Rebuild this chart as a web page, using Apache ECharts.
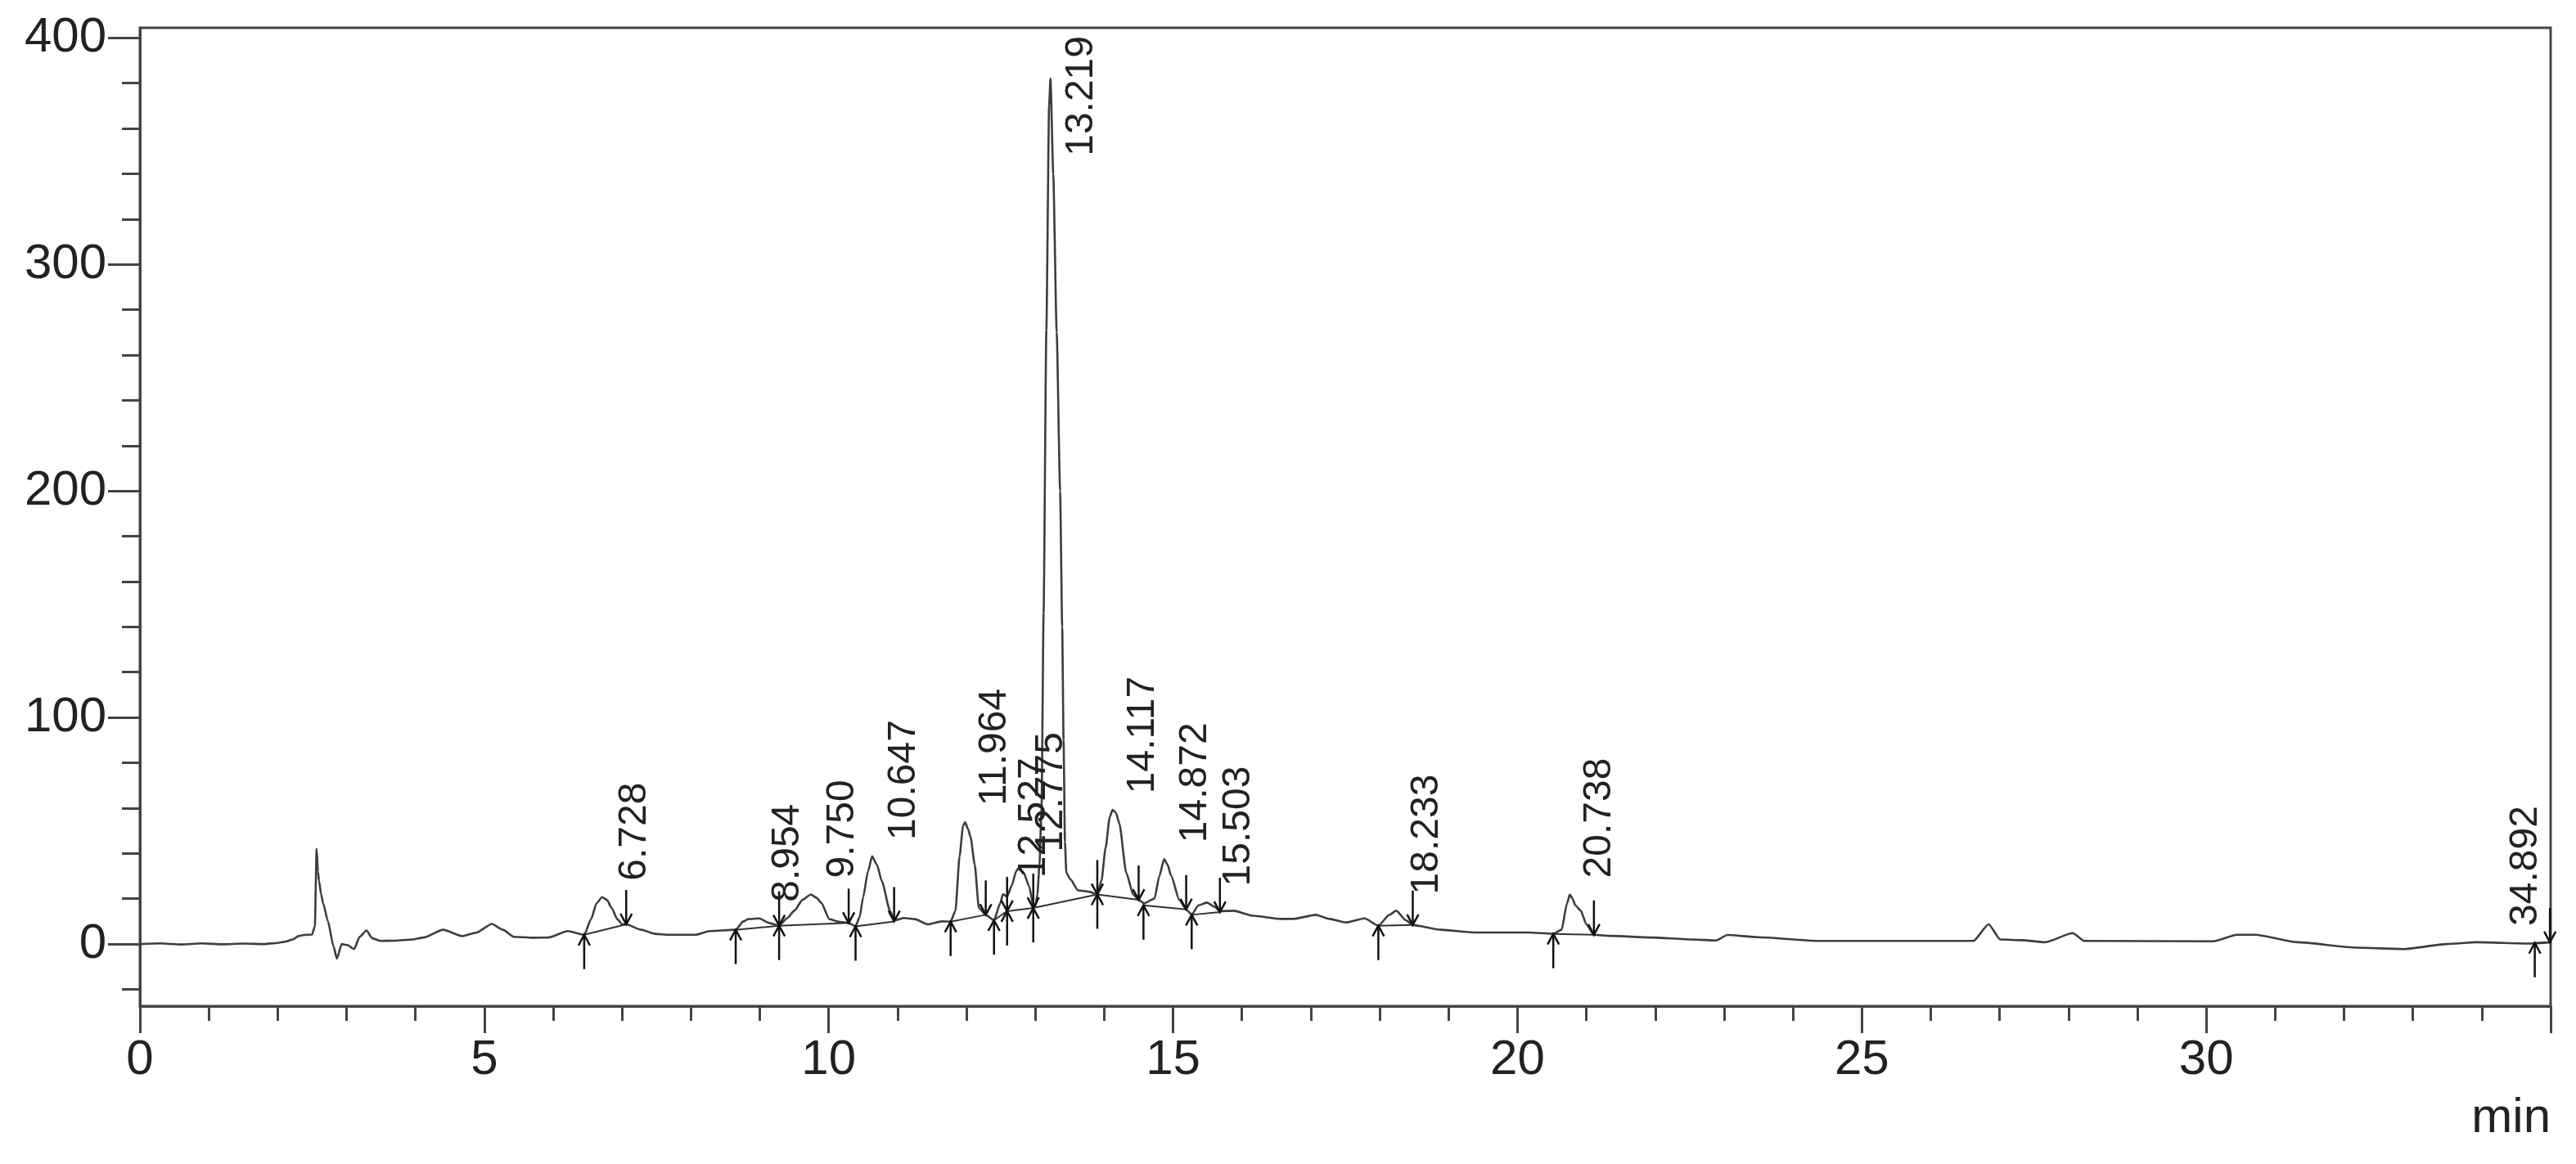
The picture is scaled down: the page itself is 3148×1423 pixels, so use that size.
<!DOCTYPE html>
<html>
<head>
<meta charset="utf-8">
<script src="https://cdn.jsdelivr.net/npm/echarts@6/dist/echarts.min.js"></script>
<style>
html, body { margin: 0; padding: 0; background: #fff; }
#main { width: 3148px; height: 1423px; }
</style>
</head>
<body>
<div id="main"></div>
<script>
var dom = document.getElementById('main');
var myChart = echarts.init(dom);

// chromatogram trace (min, signal)
var traceTime = [0, 0.3, 0.6, 0.9, 1.2, 1.5, 1.8, 2.0, 2.1, 2.22, 2.3, 2.38, 2.5, 2.54, 2.565, 2.585, 2.6, 2.63, 2.66, 2.73,
    2.81, 2.86, 2.93, 3.01, 3.11, 3.19, 3.29, 3.37, 3.49, 3.7, 3.96, 4.12, 4.40, 4.68, 4.88, 5.11, 5.27, 5.43, 5.70, 5.93,
    6.21, 6.45, 6.55, 6.63, 6.71, 6.78, 6.85, 6.93, 7.0, 7.06, 7.28, 7.48, 7.68, 8.07, 8.27, 8.65, 8.76, 8.83, 8.99, 9.14,
    9.28, 9.40, 9.50, 9.62, 9.74, 9.82, 9.89, 10.01, 10.14, 10.29, 10.39, 10.45, 10.50, 10.57, 10.63, 10.70, 10.77, 10.89, 10.95, 11.1,
    11.25, 11.44, 11.64, 11.77, 11.84, 11.90, 11.95, 11.98, 12.02, 12.06, 12.12, 12.18, 12.28, 12.40, 12.49, 12.53, 12.59, 12.66, 12.72, 12.75,
    12.83, 12.91, 12.97, 13.00, 13.03, 13.06, 13.09, 13.12, 13.16, 13.20, 13.22, 13.26, 13.31, 13.36, 13.39, 13.41, 13.43, 13.45, 13.51, 13.62,
    13.78, 13.90, 13.96, 14.02, 14.08, 14.12, 14.17, 14.22, 14.32, 14.42, 14.50, 14.58, 14.73, 14.80, 14.87, 14.92, 14.97, 15.09, 15.19, 15.27,
    15.37, 15.49, 15.60, 15.68, 15.88, 16.16, 16.56, 16.75, 17.07, 17.27, 17.51, 17.78, 17.98, 18.14, 18.24, 18.38, 18.48, 18.89, 19.37, 20.16,
    20.52, 20.64, 20.72, 20.76, 20.80, 20.84, 20.92, 21.0, 21.11, 21.35, 21.95, 22.54, 22.88, 23.05, 23.49, 24.36, 26.10, 26.62, 26.84, 27.01,
    27.32, 27.66, 28.06, 28.23, 30.1, 30.45, 30.71, 31.32, 32.19, 32.88, 33.49, 33.93, 34.71, 35.0];
var traceSignal = [0, 0.3, -0.2, 0.3, -0.1, 0.2, 0, 0.5, 1, 2, 3.5, 4, 4.2, 8, 42, 32, 28, 22, 18, 10,
    -1, -6.4, 0, -0.4, -2.2, 3.2, 6, 2.6, 1.4, 1.5, 2, 2.9, 6.3, 3.5, 5, 8.9, 6.3, 3.2, 2.8, 2.9,
    5.7, 4.1, 11, 18, 20.7, 19.5, 15.9, 11, 8.7, 8.7, 6.3, 4.5, 4.1, 4.1, 5.7, 6.3, 10, 11, 11.3, 9.3,
    8.1, 11.5, 14.7, 19.5, 21.9, 20.5, 18.3, 11, 9.9, 9.3, 7.8, 12, 20.7, 32, 38.7, 35, 27.9, 14.7, 10.5, 11.5,
    11, 8.7, 10, 9.9, 14.7, 38.7, 52, 53.8, 51, 47.2, 35.1, 15.9, 12.9, 10.5, 18, 22, 21, 26, 32, 33.3,
    31.5, 25.5, 17, 16.5, 22, 35, 60, 146, 271, 370, 382, 340, 270, 200, 140, 90, 45, 31.5, 28.5, 23.7,
    23.1, 21.9, 28, 42.4, 56, 59.2, 58, 53.2, 31.5, 21.9, 19.5, 18, 20.1, 30, 37.5, 35, 30.3, 19.5, 15.3, 13.0,
    17.1, 18.3, 16.5, 14.5, 14.7, 12.5, 11.1, 11.1, 12.9, 11.1, 9.5, 11.3, 8.1, 12.9, 14.7, 10.5, 8.4, 6.3, 5.1, 5.1,
    4.5, 6.3, 18, 21.9, 20, 17.1, 14.7, 8.7, 4.1, 3.6, 2.9, 2.0, 1.6, 4.0, 3.0, 1.4, 1.4, 1.4, 8.7, 2,
    1.7, 0.8, 4.8, 1.4, 1.2, 4.1, 4.1, 0.8, -1.6, -2.2, 0, 0.8, 0.2, 0.8];

// integrated peaks
var peakLabels = ['6.728', '8.954', '9.750', '10.647', '11.964', '12.527', '12.775', '13.219', '14.117', '14.872', '15.503', '18.233', '20.738', '34.892'];
var peakApex = [20.7, 11.3, 21.9, 38.7, 53.8, 22, 33.3, 382, 59.2, 37.5, 18.3, 14.7, 21.9, 0.8];
var peakStart = [[6.45, 4.1], [8.65, 6.3], [9.28, 8.1], [10.39, 7.8], [11.77, 9.9], [12.40, 10.5], [12.59, 14.5],
    [12.97, 15.9], [13.90, 21.9], [14.57, 17.1], [15.27, 12.9], [17.98, 8.1], [20.52, 4.5], [34.77, 0.5]];
var peakEnd = [[7.06, 8.7], [9.28, 8.1], [10.29, 9.3], [10.95, 10.0], [12.28, 12.9], [12.59, 14.5], [12.97, 15.9],
    [13.90, 21.9], [14.50, 19.5], [15.19, 15.3], [15.68, 14.1], [18.48, 8.4], [21.11, 4.1], [34.99, 0.8]];

// axis ticks
var xLabelValues = [0, 5, 10, 15, 20, 25, 30];
var yLabelValues = [0, 100, 200, 300, 400];
var yMinorValues = [-20, 20, 40, 60, 80, 120, 140, 160, 180, 220, 240, 260, 280, 320, 340, 360, 380];

var Y_MIN = -27.4, Y_MAX = 404.4;
var axisColor = '#444';
var labelFont = '48px "Liberation Sans"';

var measure = document.createElement('canvas').getContext('2d');
measure.font = labelFont;

var trace = traceTime.map(function (t, i) { return [t, traceSignal[i]]; });
var peaks = peakLabels.map(function (l, i) {
    return [parseFloat(l), peakApex[i], peakStart[i][0], peakStart[i][1], peakEnd[i][0], peakEnd[i][1]];
});

function arrow(x, y, dir) {
    // dir 1: up arrow from below, -1: down arrow from above
    var st = { stroke: '#111', lineWidth: 2.5, fill: null };
    return [
        { type: 'polyline', shape: { points: [[x, y + dir * 42], [x, y]] }, style: st },
        { type: 'polyline', shape: { points: [[x - 7, y + dir * 13], [x, y], [x + 7, y + dir * 13]] }, style: st }
    ];
}

function renderPeak(params, api) {
    var i = params.dataIndex;
    var p = api.coord([api.value(0), api.value(1)]);
    var s = api.coord([api.value(2), api.value(3)]);
    var e = api.coord([api.value(4), api.value(5)]);
    var topY = api.coord([0, Y_MAX])[1];
    var rightX = api.coord([35, 0])[0];
    var text = peakLabels[i];
    var len = measure.measureText(text).width;
    var y0 = p[1] - 20;
    if (y0 - len < topY + 10) y0 = topY + 10 + len;
    var x0 = Math.min(p[0] + 38, rightX - 30);
    var kids = [
        { type: 'line', shape: { x1: s[0], y1: s[1], x2: e[0], y2: e[1] }, style: { stroke: '#333', lineWidth: 2 } }
    ];
    kids = kids.concat(arrow(s[0], s[1], 1), arrow(e[0], e[1], -1));
    kids.push({
        type: 'text', x: x0, y: y0, rotation: Math.PI / 2,
        style: { text: text, font: labelFont, fill: '#222', align: 'left', verticalAlign: 'middle' }
    });
    return { type: 'group', children: kids };
}

option = {
    backgroundColor: '#fff',
    animation: false,
    grid: {
        left: 171, right: 31, top: 34, bottom: 193,
        show: true, borderColor: axisColor, borderWidth: 3
    },
    xAxis: {
        type: 'value', min: 0, max: 35, interval: 5,
        axisLine: { show: true, onZero: false, lineStyle: { color: axisColor, width: 3 } },
        axisTick: { show: true, length: 33, lineStyle: { color: axisColor, width: 3 } },
        minorTick: { show: true, splitNumber: 5, length: 18, lineStyle: { color: axisColor, width: 3 } },
        axisLabel: {
            customValues: xLabelValues, margin: 36, fontSize: 60,
            fontFamily: 'Liberation Sans', color: '#222'
        },
        splitLine: { show: false }
    },
    yAxis: [
        {
            type: 'value', min: Y_MIN, max: Y_MAX,
            axisLine: { show: true, lineStyle: { color: axisColor, width: 3 } },
            axisTick: { show: true, length: 39, customValues: yLabelValues, lineStyle: { color: axisColor, width: 3 } },
            axisLabel: {
                customValues: yLabelValues, margin: 41, fontSize: 60,
                fontFamily: 'Liberation Sans', color: '#222'
            },
            splitLine: { show: false }
        },
        {
            type: 'value', min: Y_MIN, max: Y_MAX, position: 'left',
            axisLine: { show: false },
            axisTick: { show: true, length: 22, customValues: yMinorValues, lineStyle: { color: axisColor, width: 3 } },
            axisLabel: { show: false },
            splitLine: { show: false }
        }
    ],
    graphic: [
        {
            type: 'text', x: 3117, y: 1367,
            style: { text: 'min', font: '60px "Liberation Sans"', fill: '#222', align: 'right', verticalAlign: 'middle' }
        }
    ],
    series: [
        {
            type: 'line',
            data: trace,
            showSymbol: false,
            smooth: 0.2,
            smoothMonotone: 'x',
            lineStyle: { color: '#3d3d3d', width: 2.6 },
            z: 2
        },
        {
            type: 'custom',
            data: peaks,
            renderItem: renderPeak,
            clip: false,
            z: 3
        }
    ]
};
if (option && typeof option === "object") {
    myChart.setOption(option, true);
}
</script>
</body>
</html>
